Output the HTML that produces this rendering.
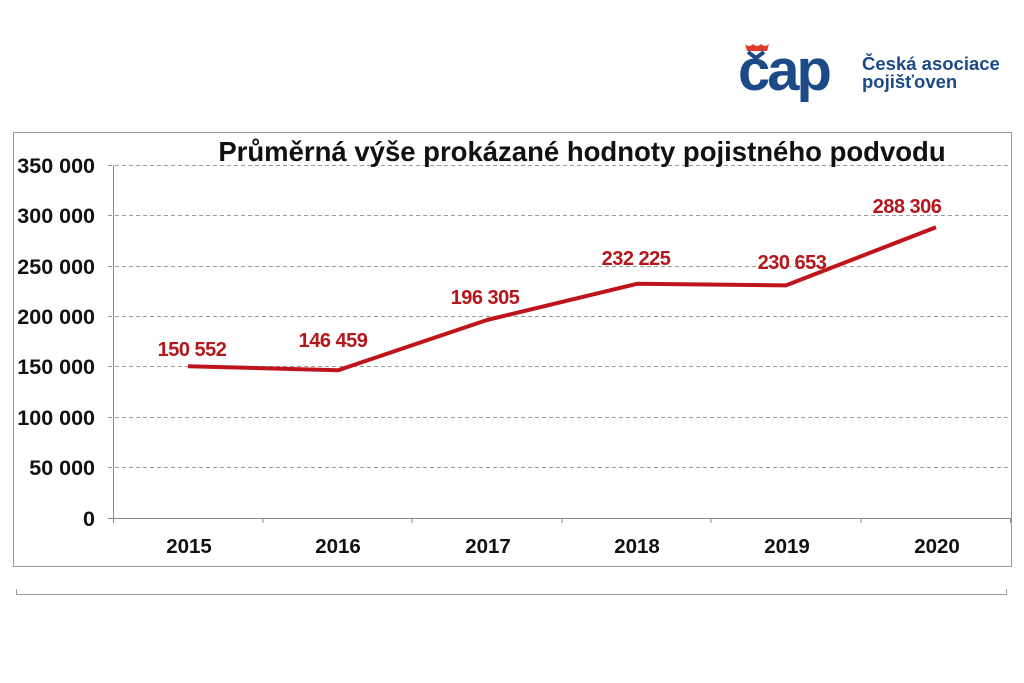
<!DOCTYPE html>
<html><head><meta charset="utf-8"><style>
body{margin:0;background:#fff;width:1024px;height:683px;overflow:hidden}
svg{display:block}
text{font-family:"Liberation Sans",Arial,sans-serif;font-weight:bold}
</style></head><body>
<svg width="1024" height="683" viewBox="0 0 1024 683">
<!-- logo -->
<path d="M745 44 q4 4 8 0 q4 4 8 0 q4 4 8 0 l-2 7 h-20z" fill="#e03a2f"/>
<path d="M748 52 l8 6 l8 -6" fill="none" stroke="#1b4a86" stroke-width="4"/>
<text x="738" y="90" font-size="58" fill="#1b4a86" letter-spacing="-3">cap</text>
<text x="862" y="70" font-size="18.5" fill="#1b4a86">Česká asociace</text>
<text x="862" y="88" font-size="18.5" fill="#1b4a86">pojišťoven</text>
<!-- chart box -->
<rect x="13.5" y="132.5" width="998" height="434" fill="none" stroke="#999" stroke-width="1"/>
<path d="M16.5 589 V594.5 H1006.5 V589" fill="none" stroke="#999"/>
<g stroke="#999" stroke-dasharray="4,3" stroke-width="1">
<line x1="108" y1="165.5" x2="1011" y2="165.5"/>
<line x1="108" y1="215.5" x2="1011" y2="215.5"/>
<line x1="108" y1="266.5" x2="1011" y2="266.5"/>
<line x1="108" y1="316.5" x2="1011" y2="316.5"/>
<line x1="108" y1="366.5" x2="1011" y2="366.5"/>
<line x1="108" y1="417.5" x2="1011" y2="417.5"/>
<line x1="108" y1="467.5" x2="1011" y2="467.5"/>
</g>
<g stroke="#888" stroke-width="1">
<line x1="113.5" y1="165" x2="113.5" y2="523"/>
<line x1="108" y1="518.5" x2="1011" y2="518.5"/>
<line x1="263" y1="518" x2="263" y2="523"/>
<line x1="412" y1="518" x2="412" y2="523"/>
<line x1="562" y1="518" x2="562" y2="523"/>
<line x1="711" y1="518" x2="711" y2="523"/>
<line x1="861" y1="518" x2="861" y2="523"/>
<line x1="1010.5" y1="518" x2="1010.5" y2="523"/>
</g>
<g font-size="21.5" fill="#111" text-anchor="end">
<text x="95" y="173">350 000</text>
<text x="95" y="223">300 000</text>
<text x="95" y="274">250 000</text>
<text x="95" y="324">200 000</text>
<text x="95" y="374">150 000</text>
<text x="95" y="425">100 000</text>
<text x="95" y="475">50 000</text>
<text x="95" y="526">0</text>
</g>
<g font-size="20.5" fill="#111" text-anchor="middle">
<text x="189" y="553">2015</text>
<text x="338" y="553">2016</text>
<text x="488" y="553">2017</text>
<text x="637" y="553">2018</text>
<text x="787" y="553">2019</text>
<text x="937" y="553">2020</text>
</g>
<text x="582" y="161" font-size="27.5" fill="#111" text-anchor="middle">Průměrná výše prokázané hodnoty pojistného podvodu</text>
<polyline points="188,366.2 338,370.3 487,320 637,283.8 786,285.4 936,227.2" fill="none" stroke="#c0141c" stroke-width="4" stroke-linejoin="round"/>
<g font-size="20" fill="#b5161b" text-anchor="middle" letter-spacing="-0.5">
<text x="192" y="356">150 552</text>
<text x="333" y="347">146 459</text>
<text x="485" y="304">196 305</text>
<text x="636" y="265">232 225</text>
<text x="792" y="269">230 653</text>
<text x="907" y="213">288 306</text>
</g>
</svg>
</body></html>
